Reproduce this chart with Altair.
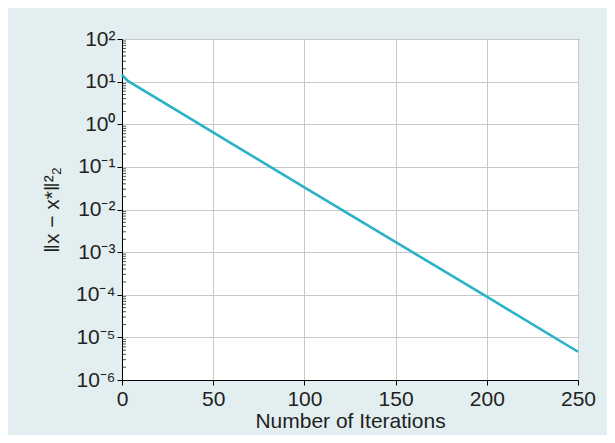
import altair as alt
import pandas as pd

# Data
iterations = [0, 3, 100, 200, 250]
errors = [14.5, 10.5, 0.033, 9e-5, 4.6e-6]

x_ticks = [0, 50, 100, 150, 200, 250]
y_major = [1e-6, 1e-5, 1e-4, 1e-3, 1e-2, 1e-1, 1e0, 1e1, 1e2]
y_minor = [m * 10.0 ** e for e in range(-6, 2) for m in range(2, 10)]

df = pd.DataFrame({"iter": iterations, "err": errors})
df_minor = pd.DataFrame({"err": y_minor})

FONT = "Liberation Sans"
TXT = "#231f20"

label_expr = (
    "'10' + (round(log(datum.value)/LN10) == 2 ? '²' : "
    "round(log(datum.value)/LN10) == 1 ? '¹' : "
    "round(log(datum.value)/LN10) == 0 ? '⁰' : "
    "round(log(datum.value)/LN10) == -1 ? '⁻¹' : "
    "round(log(datum.value)/LN10) == -2 ? '⁻²' : "
    "round(log(datum.value)/LN10) == -3 ? '⁻³' : "
    "round(log(datum.value)/LN10) == -4 ? '⁻⁴' : "
    "round(log(datum.value)/LN10) == -5 ? '⁻⁵' : '⁻⁶')"
)

x_scale = alt.Scale(domain=[0, 250], nice=False, zero=False)
y_scale = alt.Scale(type="log", domain=[1e-6, 1e2], nice=False)

x_enc = alt.X(
    "iter:Q",
    scale=x_scale,
    axis=alt.Axis(
        values=x_ticks, title="Number of Iterations", grid=True,
        gridColor="#c8c8c8", gridWidth=1, domainColor="black",
        tickColor="black", tickSize=5, labelPadding=3,
        labelFontSize=21, titleFontSize=21, titleFontWeight="normal",
        labelColor=TXT, titleColor=TXT, labelFont=FONT, titleFont=FONT,
        titlePadding=1, labelFlush=False,
    ),
)

line = alt.Chart(df).mark_line(color="#2ab2c6", strokeWidth=2.6).encode(
    x=x_enc,
    y=alt.Y(
        "err:Q",
        scale=y_scale,
        axis=alt.Axis(
            orient="left", values=y_major, labelExpr=label_expr,
            title="‖x − x*‖²₂", grid=True, gridColor="#c8c8c8",
            gridWidth=1, domainColor="black", tickColor="black",
            tickSize=5, labelPadding=2, labelFontSize=21,
            titleFontSize=21, titleFontWeight="normal", labelColor=TXT,
            titleColor=TXT, labelFont=FONT, titleFont=FONT,
            titlePadding=13,
        ),
    ),
)

minor = alt.Chart(df_minor).mark_tick(
    color="black", thickness=1, size=4, orient="horizontal"
).encode(
    y=alt.Y("err:Q", scale=y_scale),
    x=alt.value(2),
)

chart = (
    alt.layer(line, minor)
    .properties(
        width=456, height=341,
        autosize=alt.AutoSizeParams(type="none"),
        padding={"left": 114, "top": 31, "right": 29, "bottom": 55},
        background="#e2eef0",
    )
    .configure_view(fill="white", stroke="black", strokeWidth=1)
)

chart.save("out.html", embed_options={"renderer": "svg", "actions": False})
